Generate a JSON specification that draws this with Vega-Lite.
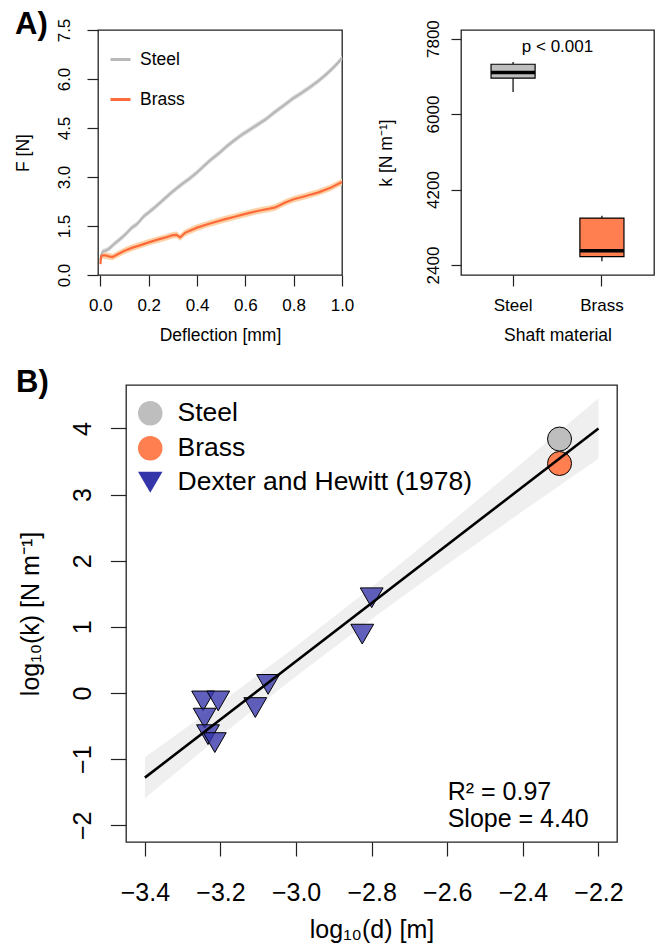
{
  "$schema": "https://vega.github.io/schema/vega-lite/v6.json",
  "padding": {"left": 13, "top": 8, "right": 0, "bottom": 0},
  "background": "white",
  "config": {
    "font": "Liberation Sans",
    "view": {"stroke": "#222222", "strokeWidth": 1.3},
    "axis": {"domain": false, "grid": false, "ticks": true, "tickColor": "#222222", "tickWidth": 1.2, "labelColor": "black", "titleColor": "black", "titleFontWeight": "normal", "labelFlush": false, "labelOverlap": false, "labelFont": "Liberation Sans", "titleFont": "Liberation Sans"},
    "legend": {"labelFont": "Liberation Sans", "labelColor": "black", "labelLimit": 0},
    "title": {"font": "Liberation Sans", "color": "black"}
  },
  "datasets": {
    "forces": [
      {"series": "Steel", "x": 0.000, "F": 0.45, "lo": 0.37, "hi": 0.53},
      {"series": "Steel", "x": 0.004, "F": 0.62, "lo": 0.54, "hi": 0.70},
      {"series": "Steel", "x": 0.010, "F": 0.72, "lo": 0.64, "hi": 0.80},
      {"series": "Steel", "x": 0.020, "F": 0.74, "lo": 0.66, "hi": 0.82},
      {"series": "Steel", "x": 0.035, "F": 0.80, "lo": 0.72, "hi": 0.88},
      {"series": "Steel", "x": 0.060, "F": 0.97, "lo": 0.89, "hi": 1.05},
      {"series": "Steel", "x": 0.080, "F": 1.09, "lo": 1.01, "hi": 1.17},
      {"series": "Steel", "x": 0.100, "F": 1.22, "lo": 1.14, "hi": 1.30},
      {"series": "Steel", "x": 0.130, "F": 1.45, "lo": 1.37, "hi": 1.53},
      {"series": "Steel", "x": 0.150, "F": 1.55, "lo": 1.47, "hi": 1.63},
      {"series": "Steel", "x": 0.180, "F": 1.80, "lo": 1.72, "hi": 1.88},
      {"series": "Steel", "x": 0.200, "F": 1.92, "lo": 1.84, "hi": 2.00},
      {"series": "Steel", "x": 0.230, "F": 2.10, "lo": 2.02, "hi": 2.18},
      {"series": "Steel", "x": 0.260, "F": 2.30, "lo": 2.22, "hi": 2.38},
      {"series": "Steel", "x": 0.290, "F": 2.50, "lo": 2.42, "hi": 2.58},
      {"series": "Steel", "x": 0.310, "F": 2.62, "lo": 2.54, "hi": 2.70},
      {"series": "Steel", "x": 0.340, "F": 2.80, "lo": 2.72, "hi": 2.88},
      {"series": "Steel", "x": 0.370, "F": 2.96, "lo": 2.88, "hi": 3.04},
      {"series": "Steel", "x": 0.400, "F": 3.14, "lo": 3.06, "hi": 3.22},
      {"series": "Steel", "x": 0.430, "F": 3.35, "lo": 3.27, "hi": 3.43},
      {"series": "Steel", "x": 0.460, "F": 3.55, "lo": 3.47, "hi": 3.63},
      {"series": "Steel", "x": 0.490, "F": 3.72, "lo": 3.64, "hi": 3.80},
      {"series": "Steel", "x": 0.520, "F": 3.92, "lo": 3.84, "hi": 4.00},
      {"series": "Steel", "x": 0.550, "F": 4.10, "lo": 4.02, "hi": 4.18},
      {"series": "Steel", "x": 0.586, "F": 4.30, "lo": 4.22, "hi": 4.38},
      {"series": "Steel", "x": 0.620, "F": 4.46, "lo": 4.38, "hi": 4.54},
      {"series": "Steel", "x": 0.650, "F": 4.60, "lo": 4.52, "hi": 4.68},
      {"series": "Steel", "x": 0.683, "F": 4.76, "lo": 4.68, "hi": 4.84},
      {"series": "Steel", "x": 0.720, "F": 4.98, "lo": 4.90, "hi": 5.06},
      {"series": "Steel", "x": 0.765, "F": 5.22, "lo": 5.14, "hi": 5.30},
      {"series": "Steel", "x": 0.800, "F": 5.42, "lo": 5.34, "hi": 5.50},
      {"series": "Steel", "x": 0.830, "F": 5.56, "lo": 5.48, "hi": 5.64},
      {"series": "Steel", "x": 0.862, "F": 5.72, "lo": 5.64, "hi": 5.80},
      {"series": "Steel", "x": 0.900, "F": 5.93, "lo": 5.85, "hi": 6.01},
      {"series": "Steel", "x": 0.931, "F": 6.12, "lo": 6.04, "hi": 6.20},
      {"series": "Steel", "x": 0.960, "F": 6.32, "lo": 6.24, "hi": 6.40},
      {"series": "Steel", "x": 0.980, "F": 6.47, "lo": 6.39, "hi": 6.55},
      {"series": "Steel", "x": 1.000, "F": 6.64, "lo": 6.56, "hi": 6.72},
      {"series": "Brass", "x": 0.000, "F": 0.33, "lo": 0.23, "hi": 0.43},
      {"series": "Brass", "x": 0.003, "F": 0.58, "lo": 0.48, "hi": 0.68},
      {"series": "Brass", "x": 0.010, "F": 0.60, "lo": 0.50, "hi": 0.70},
      {"series": "Brass", "x": 0.020, "F": 0.60, "lo": 0.50, "hi": 0.70},
      {"series": "Brass", "x": 0.035, "F": 0.57, "lo": 0.47, "hi": 0.67},
      {"series": "Brass", "x": 0.050, "F": 0.55, "lo": 0.45, "hi": 0.65},
      {"series": "Brass", "x": 0.070, "F": 0.63, "lo": 0.53, "hi": 0.73},
      {"series": "Brass", "x": 0.100, "F": 0.74, "lo": 0.64, "hi": 0.84},
      {"series": "Brass", "x": 0.130, "F": 0.83, "lo": 0.73, "hi": 0.93},
      {"series": "Brass", "x": 0.160, "F": 0.90, "lo": 0.80, "hi": 1.00},
      {"series": "Brass", "x": 0.200, "F": 1.00, "lo": 0.90, "hi": 1.10},
      {"series": "Brass", "x": 0.240, "F": 1.09, "lo": 0.99, "hi": 1.19},
      {"series": "Brass", "x": 0.270, "F": 1.15, "lo": 1.05, "hi": 1.25},
      {"series": "Brass", "x": 0.300, "F": 1.22, "lo": 1.12, "hi": 1.32},
      {"series": "Brass", "x": 0.315, "F": 1.23, "lo": 1.13, "hi": 1.33},
      {"series": "Brass", "x": 0.330, "F": 1.15, "lo": 1.05, "hi": 1.25},
      {"series": "Brass", "x": 0.350, "F": 1.29, "lo": 1.19, "hi": 1.39},
      {"series": "Brass", "x": 0.400, "F": 1.45, "lo": 1.35, "hi": 1.55},
      {"series": "Brass", "x": 0.450, "F": 1.57, "lo": 1.47, "hi": 1.67},
      {"series": "Brass", "x": 0.517, "F": 1.71, "lo": 1.61, "hi": 1.81},
      {"series": "Brass", "x": 0.560, "F": 1.79, "lo": 1.69, "hi": 1.89},
      {"series": "Brass", "x": 0.600, "F": 1.87, "lo": 1.77, "hi": 1.97},
      {"series": "Brass", "x": 0.650, "F": 1.96, "lo": 1.86, "hi": 2.06},
      {"series": "Brass", "x": 0.700, "F": 2.03, "lo": 1.93, "hi": 2.13},
      {"series": "Brass", "x": 0.724, "F": 2.07, "lo": 1.97, "hi": 2.17},
      {"series": "Brass", "x": 0.765, "F": 2.22, "lo": 2.12, "hi": 2.32},
      {"series": "Brass", "x": 0.800, "F": 2.32, "lo": 2.22, "hi": 2.42},
      {"series": "Brass", "x": 0.850, "F": 2.42, "lo": 2.32, "hi": 2.52},
      {"series": "Brass", "x": 0.903, "F": 2.53, "lo": 2.43, "hi": 2.63},
      {"series": "Brass", "x": 0.950, "F": 2.66, "lo": 2.56, "hi": 2.76},
      {"series": "Brass", "x": 1.000, "F": 2.85, "lo": 2.75, "hi": 2.95}
    ],
    "box": [
      {"material": "Steel", "lo": 6525, "q1": 6855, "med": 6990, "q3": 7188, "hi": 7240},
      {"material": "Brass", "lo": 2488, "q1": 2598, "med": 2740, "q3": 3519, "hi": 3573}
    ],
    "pts": [
      {"group": "Dexter and Hewitt (1978)", "d": -2.800, "k": 1.44},
      {"group": "Dexter and Hewitt (1978)", "d": -2.825, "k": 0.89},
      {"group": "Dexter and Hewitt (1978)", "d": -3.074, "k": 0.13},
      {"group": "Dexter and Hewitt (1978)", "d": -3.108, "k": -0.22},
      {"group": "Dexter and Hewitt (1978)", "d": -3.246, "k": -0.12},
      {"group": "Dexter and Hewitt (1978)", "d": -3.206, "k": -0.12},
      {"group": "Dexter and Hewitt (1978)", "d": -3.242, "k": -0.38},
      {"group": "Dexter and Hewitt (1978)", "d": -3.233, "k": -0.63},
      {"group": "Dexter and Hewitt (1978)", "d": -3.215, "k": -0.75},
      {"group": "Steel", "d": -2.303, "k": 3.84},
      {"group": "Brass", "d": -2.303, "k": 3.47}
    ],
    "fit": [
      {"d": -3.4, "k": -1.28},
      {"d": -2.2, "k": 4.0}
    ],
    "band": [
      {"d": -3.4, "k": -1.59, "k2": -0.97},
      {"d": -3.2, "k": -0.65, "k2": -0.15},
      {"d": -3.0, "k": 0.255, "k2": 0.705},
      {"d": -2.8, "k": 1.12, "k2": 1.60},
      {"d": -2.6, "k": 1.945, "k2": 2.535},
      {"d": -2.4, "k": 2.75, "k2": 3.49},
      {"d": -2.2, "k": 3.545, "k2": 4.455}
    ],
    "annot": [
      {"label": "R² = 0.97", "d": -2.599, "k": -1.50},
      {"label": "Slope = 4.40", "d": -2.599, "k": -1.906}
    ]
  },
  "resolve": {
    "scale": {"x": "independent", "y": "independent", "fill": "independent", "stroke": "independent", "shape": "independent", "size": "independent", "fillOpacity": "independent"},
    "legend": {"fill": "independent", "stroke": "independent", "shape": "independent"}
  },
  "vconcat": [
    {
      "resolve": {
        "scale": {"x": "independent", "y": "independent", "fill": "independent", "stroke": "independent", "shape": "independent"},
        "legend": {"fill": "independent", "stroke": "independent", "shape": "independent"}
      },
      "hconcat": [
        {
          "width": 244,
          "height": 245,
          "title": {"text": "A)", "anchor": "start", "frame": "group", "fontSize": 31, "fontWeight": "bold", "offset": -23, "dx": -83},
          "data": {"name": "forces"},
          "layer": [
            {
              "mark": {"type": "area"},
              "encoding": {
                "x": {"field": "x", "type": "quantitative", "scale": {"domain": [-0.01, 1.0], "nice": false, "zero": false}, "axis": {"values": [0, 0.2, 0.4, 0.6, 0.8, 1.0], "format": ".1f", "title": "Deflection [mm]", "tickSize": 11, "labelPadding": 11, "titlePadding": 13, "labelFontSize": 17, "titleFontSize": 17.5}},
                "y": {"field": "lo", "type": "quantitative", "scale": {"domain": [0, 7.5], "nice": false, "zero": false}, "axis": {"values": [0, 1.5, 3, 4.5, 6, 7.5], "format": ".1f", "title": "F [N]", "tickSize": 11, "labelAngle": -90, "labelAlign": "center", "labelBaseline": "bottom", "labelPadding": 14, "titlePadding": 23, "labelFontSize": 17, "titleFontSize": 17.5}},
                "y2": {"field": "hi"},
                "detail": {"field": "series", "type": "nominal"},
                "fill": {"condition": {"test": "datum.series === 'Steel'", "value": "#DCDCDC"}, "value": "#FCD2A6"}
              }
            },
            {
              "mark": {"type": "line", "strokeWidth": 2.2},
              "encoding": {
                "x": {"field": "x", "type": "quantitative", "scale": {"domain": [-0.01, 1.0], "nice": false, "zero": false}, "axis": {"values": [0, 0.2, 0.4, 0.6, 0.8, 1.0], "format": ".1f", "title": "Deflection [mm]", "tickSize": 11, "labelPadding": 11, "titlePadding": 13, "labelFontSize": 17, "titleFontSize": 17.5}},
                "y": {"field": "F", "type": "quantitative", "scale": {"domain": [0, 7.5], "nice": false, "zero": false}, "axis": {"values": [0, 1.5, 3, 4.5, 6, 7.5], "format": ".1f", "title": "F [N]", "tickSize": 11, "labelAngle": -90, "labelAlign": "center", "labelBaseline": "bottom", "labelPadding": 14, "titlePadding": 23, "labelFontSize": 17, "titleFontSize": 17.5}},
                "stroke": {"field": "series", "type": "nominal", "scale": {"domain": ["Steel", "Brass"], "range": ["#B8B8B8", "#FF6A3A"]}, "legend": {"orient": "none", "legendX": 11, "legendY": 18, "title": null, "symbolType": "stroke", "symbolSize": 400, "symbolStrokeWidth": 3, "labelFontSize": 17.5, "rowPadding": 20, "labelOffset": 8, "padding": 0}}
              }
            }
          ]
        },
        {
          "width": 193,
          "height": 245,
          "data": {"name": "box"},
          "layer": [
            {
              "mark": {"type": "rule", "color": "black", "strokeWidth": 1.2},
              "encoding": {
                "x": {"field": "material", "type": "nominal", "sort": ["Steel", "Brass"], "scale": {"type": "band", "domain": ["Steel", "Brass"], "paddingInner": 0.504, "paddingOuter": 0.338}, "axis": {"title": "Shaft material", "labelAngle": 0, "tickSize": 11, "labelPadding": 11, "titlePadding": 13, "labelFontSize": 17, "titleFontSize": 17.5, "bandPosition": 0.5}},
                "y": {"field": "lo", "type": "quantitative", "scale": {"domain": [2162, 8005], "nice": false, "zero": false}, "axis": {"values": [2400, 4200, 6000, 7800], "format": "d", "title": "k [N m⁻¹]", "tickSize": 10, "labelAngle": -90, "labelAlign": "center", "labelBaseline": "bottom", "labelPadding": 9, "titlePadding": 29, "labelFontSize": 17, "titleFontSize": 17.5}},
                "y2": {"field": "q1"}
              }
            },
            {
              "mark": {"type": "rule", "color": "black", "strokeWidth": 1.2},
              "encoding": {
                "x": {"field": "material", "type": "nominal", "sort": ["Steel", "Brass"], "scale": {"type": "band", "domain": ["Steel", "Brass"], "paddingInner": 0.504, "paddingOuter": 0.338}},
                "y": {"field": "q3", "type": "quantitative", "scale": {"domain": [2162, 8005], "nice": false, "zero": false}},
                "y2": {"field": "hi"}
              }
            },
            {
              "mark": {"type": "bar", "stroke": "black", "strokeWidth": 1.2},
              "encoding": {
                "x": {"field": "material", "type": "nominal", "sort": ["Steel", "Brass"], "scale": {"type": "band", "domain": ["Steel", "Brass"], "paddingInner": 0.504, "paddingOuter": 0.338}},
                "y": {"field": "q1", "type": "quantitative", "scale": {"domain": [2162, 8005], "nice": false, "zero": false}},
                "y2": {"field": "q3"},
                "fill": {"field": "material", "type": "nominal", "scale": {"domain": ["Steel", "Brass"], "range": ["#BEBEBE", "#FF7F50"]}, "legend": null}
              }
            },
            {
              "mark": {"type": "tick", "color": "black", "thickness": 3.5, "size": 44, "opacity": 1},
              "encoding": {
                "x": {"field": "material", "type": "nominal", "sort": ["Steel", "Brass"], "scale": {"type": "band", "domain": ["Steel", "Brass"], "paddingInner": 0.504, "paddingOuter": 0.338}},
                "y": {"field": "med", "type": "quantitative", "scale": {"domain": [2162, 8005], "nice": false, "zero": false}}
              }
            },
            {
              "data": {"values": [{"label": "p < 0.001", "k": 7600}]},
              "mark": {"type": "text", "fontSize": 17, "baseline": "middle", "align": "center", "color": "black"},
              "encoding": {
                "y": {"field": "k", "type": "quantitative", "scale": {"domain": [2162, 8005], "nice": false, "zero": false}},
                "text": {"field": "label"}
              }
            }
          ]
        }
      ],
      "spacing": 21
    },
    {
      "resolve": {
        "scale": {"x": "independent", "y": "independent", "fill": "independent", "shape": "independent"},
        "legend": {"fill": "independent", "shape": "independent"}
      },
      "hconcat": [
        {
          "width": 1,
          "height": 1,
          "view": {"stroke": null},
          "data": {"values": [{"z": 0}]},
          "mark": {"type": "point", "size": 1, "opacity": 0}
        },
        {
          "width": 491,
          "height": 457,
          "title": {"text": "B)", "anchor": "start", "frame": "group", "fontSize": 31, "fontWeight": "bold", "offset": -14, "dx": -110},
          "encoding": {
            "x": {"field": "d", "type": "quantitative", "scale": {"domain": [-3.45, -2.151], "nice": false, "zero": false}, "axis": {"values": [-3.4, -3.2, -3.0, -2.8, -2.6, -2.4, -2.2], "format": ".1f", "title": "log₁₀(d) [m]", "tickSize": 14, "labelPadding": 24, "titlePadding": 12, "labelFontSize": 25, "titleFontSize": 25}},
            "y": {"field": "k", "type": "quantitative", "scale": {"domain": [-2.253, 4.657], "nice": false, "zero": false}, "axis": {"values": [-2, -1, 0, 1, 2, 3, 4], "format": "d", "title": "log₁₀(k) [N m⁻¹]", "tickSize": 15.6, "labelAngle": -90, "labelAlign": "center", "labelBaseline": "bottom", "labelPadding": 15, "titlePadding": 26.7, "labelFontSize": 25, "titleFontSize": 25}}
          },
          "layer": [
            {
              "data": {"name": "band"},
              "mark": {"type": "area", "color": "#EFEFEF", "opacity": 1},
              "encoding": {"y2": {"field": "k2"}}
            },
            {
              "data": {"name": "pts"},
              "mark": {"type": "point", "filled": true, "stroke": "black", "strokeWidth": 1, "opacity": 1, "strokeOpacity": 1},
              "encoding": {
                "shape": {"field": "group", "type": "nominal", "scale": {"domain": ["Steel", "Brass", "Dexter and Hewitt (1978)"], "range": ["circle", "circle", "triangle-down"]}, "legend": {"orient": "none", "legendX": 11, "legendY": 15, "title": null, "labelFontSize": 26.5, "rowPadding": 6, "labelOffset": 14, "padding": 0, "symbolSize": 600, "symbolStrokeColor": "black", "symbolStrokeWidth": 1, "labelLimit": 0}},
                "fill": {"field": "group", "type": "nominal", "scale": {"domain": ["Steel", "Brass", "Dexter and Hewitt (1978)"], "range": ["#BEBEBE", "#FF7F50", "#3535AA"]}, "legend": {"orient": "none", "legendX": 11, "legendY": 15, "title": null, "labelFontSize": 26.5, "rowPadding": 6, "labelOffset": 14, "padding": 0, "symbolSize": 600, "symbolStrokeColor": "black", "symbolStrokeWidth": 1, "labelLimit": 0}},
                "size": {"condition": {"test": "datum.group === 'Dexter and Hewitt (1978)'", "value": 520}, "value": 576},
                "fillOpacity": {"condition": {"test": "datum.group === 'Dexter and Hewitt (1978)'", "value": 0.78}, "value": 1}
              }
            },
            {
              "data": {"name": "fit"},
              "mark": {"type": "line", "color": "black", "strokeWidth": 2.6}
            },
            {
              "data": {"name": "annot"},
              "mark": {"type": "text", "align": "left", "baseline": "middle", "fontSize": 25, "color": "black"},
              "encoding": {"text": {"field": "label"}}
            }
          ]
        }
      ],
      "spacing": -84
    }
  ],
  "spacing": 21
}
